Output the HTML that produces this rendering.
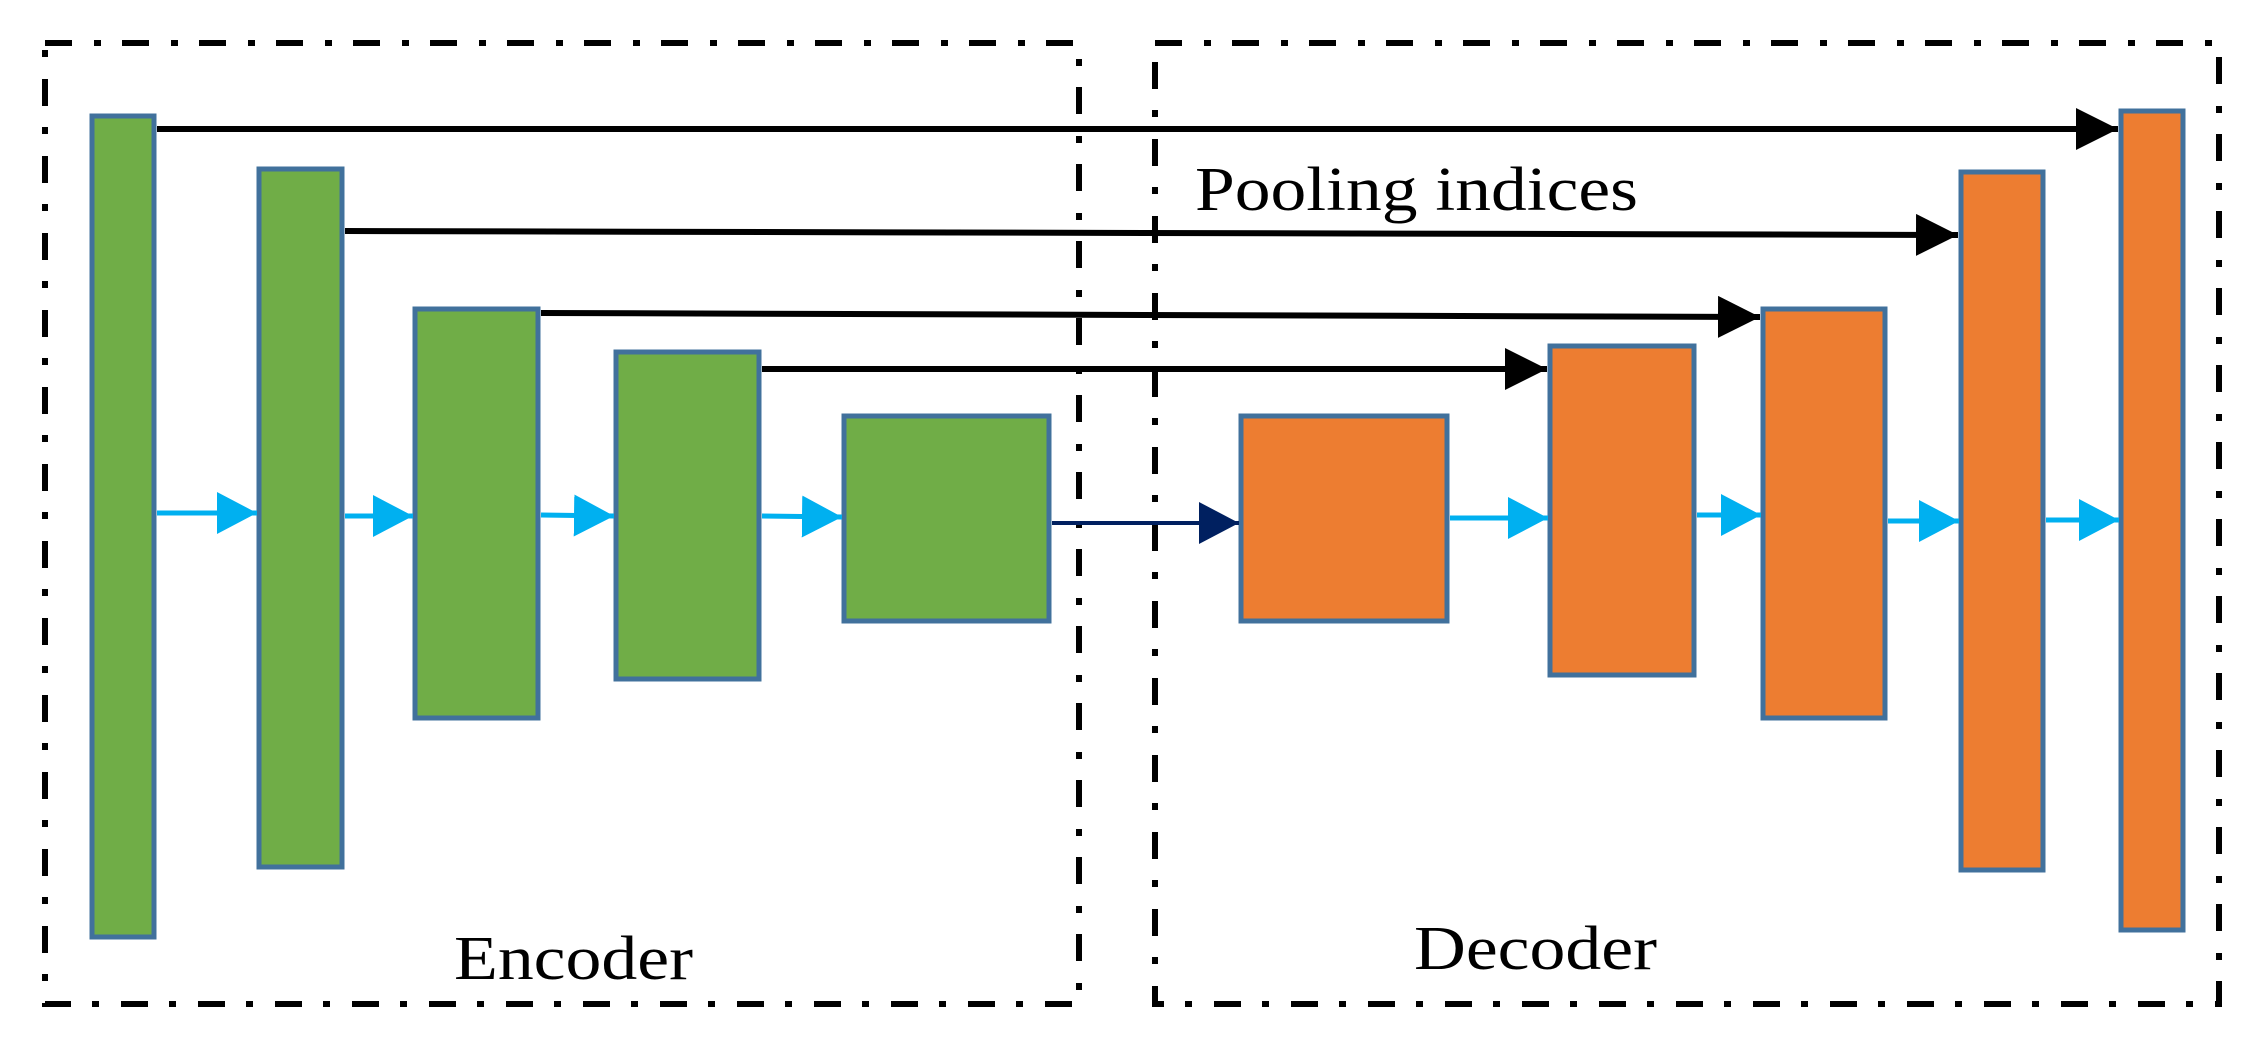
<!DOCTYPE html>
<html><head><meta charset="utf-8"><style>
html,body{margin:0;padding:0;background:#fff;}
svg{display:block;}
</style></head><body>
<svg width="2259" height="1048" viewBox="0 0 2259 1048" xmlns="http://www.w3.org/2000/svg">
<defs>
<marker id="bk" markerUnits="userSpaceOnUse" markerWidth="44" markerHeight="44" refX="42" refY="21" orient="auto"><path d="M0,0 L42,21 L0,42 Z" fill="#000"/></marker>
<marker id="bl" markerUnits="userSpaceOnUse" markerWidth="44" markerHeight="44" refX="40" refY="21" orient="auto"><path d="M0,0 L40,21 L0,42 Z" fill="#00b0f0"/></marker>
<marker id="nv" markerUnits="userSpaceOnUse" markerWidth="44" markerHeight="44" refX="40" refY="21" orient="auto"><path d="M0,0 L40,21 L0,42 Z" fill="#002060"/></marker>
</defs>
<g fill="none" stroke="#000" stroke-width="6" stroke-dasharray="27 22 7 21">
<rect x="45" y="43" width="1034" height="961"/>
<rect x="1155" y="43" width="1064" height="961"/>
</g>
<g stroke="#41719c" stroke-width="5">
<rect x="92" y="116" width="62" height="821" fill="#70ad47"/>
<rect x="259" y="169" width="83" height="698" fill="#70ad47"/>
<rect x="415" y="309" width="123" height="409" fill="#70ad47"/>
<rect x="616" y="352" width="143" height="327" fill="#70ad47"/>
<rect x="844" y="416" width="205" height="205" fill="#70ad47"/>
<rect x="1241" y="416" width="206" height="205" fill="#ed7d31"/>
<rect x="1550" y="346" width="144" height="329" fill="#ed7d31"/>
<rect x="1763" y="309" width="122" height="409" fill="#ed7d31"/>
<rect x="1961" y="172" width="82" height="698" fill="#ed7d31"/>
<rect x="2121" y="111" width="62" height="819" fill="#ed7d31"/>
</g>
<g stroke="#000" stroke-width="6" fill="none">
<line x1="157" y1="129" x2="2118" y2="129" marker-end="url(#bk)"/>
<line x1="345" y1="231" x2="1958" y2="235" marker-end="url(#bk)"/>
<line x1="541" y1="313" x2="1760" y2="317" marker-end="url(#bk)"/>
<line x1="762" y1="369" x2="1547" y2="369" marker-end="url(#bk)"/>
</g>
<g stroke="#00b0f0" stroke-width="5" fill="none">
<line x1="157" y1="513" x2="257" y2="513" marker-end="url(#bl)"/>
<line x1="345" y1="516" x2="413" y2="516" marker-end="url(#bl)"/>
<line x1="541" y1="515" x2="614" y2="516" marker-end="url(#bl)"/>
<line x1="762" y1="516" x2="842" y2="517" marker-end="url(#bl)"/>
<line x1="1450" y1="518" x2="1548" y2="518" marker-end="url(#bl)"/>
<line x1="1697" y1="515" x2="1761" y2="515" marker-end="url(#bl)"/>
<line x1="1888" y1="521" x2="1959" y2="521" marker-end="url(#bl)"/>
<line x1="2046" y1="520" x2="2119" y2="520" marker-end="url(#bl)"/>
</g>
<line x1="1052" y1="523" x2="1239" y2="523" stroke="#002060" stroke-width="4" marker-end="url(#nv)"/>
<g font-family="Liberation Serif, serif" font-size="62" fill="#000">
<text x="1195" y="210" textLength="443" lengthAdjust="spacingAndGlyphs">Pooling indices</text>
<text x="454" y="979" textLength="239" lengthAdjust="spacingAndGlyphs">Encoder</text>
<text x="1414" y="969" textLength="243" lengthAdjust="spacingAndGlyphs">Decoder</text>
</g>
</svg>
</body></html>
